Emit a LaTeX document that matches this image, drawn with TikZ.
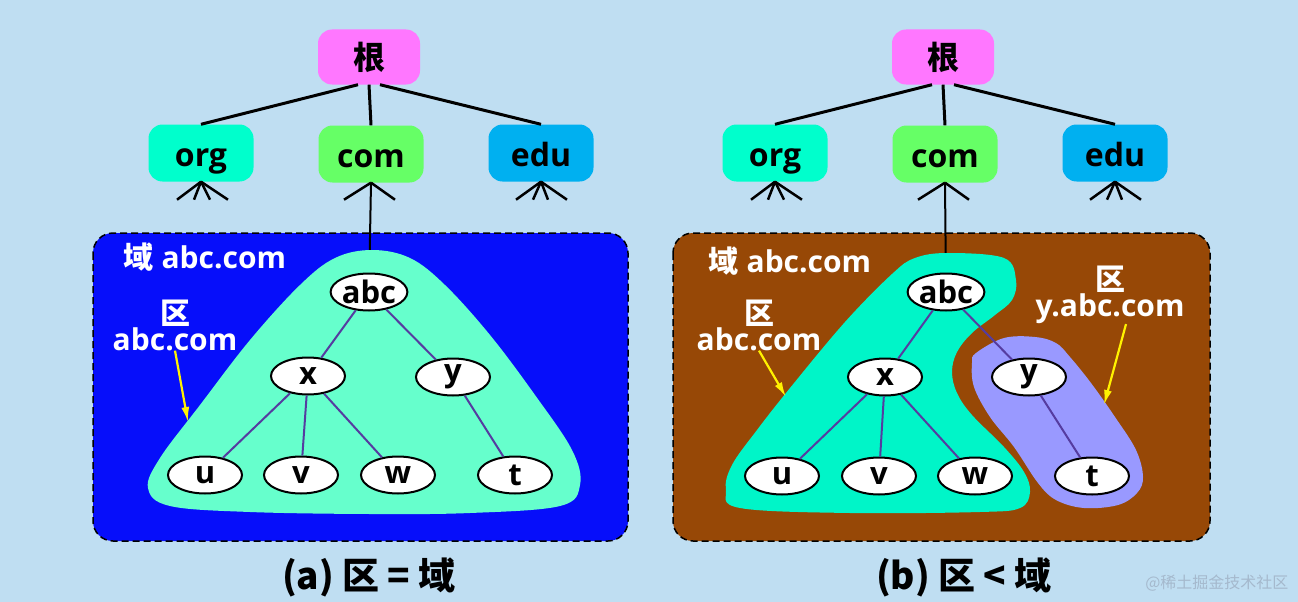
\documentclass[tikz,border=0pt]{standalone}
\usepackage{fontspec}
\setmainfont{Open Sans}
\newfontfamily\cjk{Noto Sans CJK SC}
\usetikzlibrary{shapes.geometric,arrows.meta}
\definecolor{bgblue}{RGB}{191,222,242}
\definecolor{rootpink}{RGB}{255,119,255}
\definecolor{orgcyan}{RGB}{0,255,204}
\definecolor{comgreen}{RGB}{102,255,102}
\definecolor{edublue}{RGB}{0,176,240}
\definecolor{domblue}{RGB}{6,14,250}
\definecolor{dombrown}{RGB}{151,72,6}
\definecolor{zonemint}{RGB}{102,255,204}
\definecolor{zoneteal}{RGB}{0,245,200}
\definecolor{zonelilac}{RGB}{153,153,255}
\definecolor{edgepurple}{RGB}{85,60,160}
\definecolor{markgrey}{RGB}{165,185,205}
\pgfdeclarelayer{bottom}
\pgfdeclarelayer{zones}
\pgfsetlayers{bottom,zones,main}
\tikzset{
  tld/.style={rounded corners=14pt, minimum width=105pt, minimum height=57pt,
    inner sep=0pt, text height=26pt, text depth=0pt,
    font=\bfseries\fontsize{32}{32}\selectfont},
  host/.style={ellipse, draw, line width=2pt, fill=white, minimum width=74pt,
    minimum height=37pt, inner sep=0pt, font=\bfseries\fontsize{31}{31}\selectfont},
  trunk/.style={line width=3pt},
  stub/.style={line width=2.5pt},
  treeedge/.style={draw=edgepurple, line width=2pt},
  domainbox/.style={rounded corners=20pt, dash pattern=on 7pt off 4pt, line width=1.5pt},
  lbl/.style={text=white, inner sep=0pt, align=center,
    font=\bfseries\fontsize{30}{26}\selectfont},
  pointer/.style={draw=yellow, line width=2.2pt, -{Latex[length=15pt,width=8pt]}},
  caption/.style={font=\cjk\bfseries\fontsize{37}{37}\selectfont},
}
\begin{document}
\begin{tikzpicture}[x=1pt,y=-1pt]
  \useasboundingbox (0,0) rectangle (1298,602);
  \begin{pgfonlayer}{bottom}
    \fill[bgblue] (0,0) rectangle (1298,602);
    \draw[domainbox, fill=domblue] (93,233) rectangle (628,541);
    \draw[domainbox, fill=dombrown] (673,233) rectangle (1210,541);
  \end{pgfonlayer}
  %
  % (a) top level
  \node[tld, fill=rootpink, minimum width=102pt, minimum height=55pt] (rootL) at (369,57) {\cjk 根};
  \node[tld, fill=orgcyan] (orgL) at (201,153) {org};
  \node[tld, fill=comgreen] (comL) at (371,154) {com};
  \node[tld, fill=edublue] (eduL) at (541,153) {edu};
  \draw[trunk] ([xshift=-11pt]rootL.south) -- (orgL.north);
  \draw[trunk] (rootL.south) -- (comL.north);
  \draw[trunk] ([xshift=11pt]rootL.south) -- (eduL.north);
  \foreach \dx in {-24,-7,9,27} \draw[stub] (orgL.south) -- ++(\dx,18);
  \foreach \dx in {-27,24} \draw[stub] (comL.south) -- ++(\dx,17);
  \foreach \dx in {-25,-8,7,26} \draw[stub] (eduL.south) -- ++(\dx,18);
  %
  % (b) top level
  \node[tld, fill=rootpink, minimum width=102pt, minimum height=55pt] (rootR) at (943,57) {\cjk 根};
  \node[tld, fill=orgcyan] (orgR) at (775,153) {org};
  \node[tld, fill=comgreen] (comR) at (945,154) {com};
  \node[tld, fill=edublue] (eduR) at (1115,153) {edu};
  \draw[trunk] ([xshift=-11pt]rootR.south) -- (orgR.north);
  \draw[trunk] (rootR.south) -- (comR.north);
  \draw[trunk] ([xshift=11pt]rootR.south) -- (eduR.north);
  \foreach \dx in {-24,-7,9,27} \draw[stub] (orgR.south) -- ++(\dx,18);
  \foreach \dx in {-27,24} \draw[stub] (comR.south) -- ++(\dx,17);
  \foreach \dx in {-25,-8,7,26} \draw[stub] (eduR.south) -- ++(\dx,18);
  %
  % (a) hosts
  \node[host] (abcL) at (369,292) {abc};
  \node[host] (xL) at (308,376) {x};
  \node[host] (yL) at (453,377) {y};
  \node[host] (uL) at (205,475) {u};
  \node[host] (vL) at (301,475) {v};
  \node[host] (wL) at (398,475) {w};
  \node[host] (tL) at (515,475) {t};
  \draw[treeedge] (abcL) -- (xL);
  \draw[treeedge] (abcL) -- (yL);
  \draw[treeedge] (xL) -- (uL);
  \draw[treeedge] (xL) -- (vL);
  \draw[treeedge] (xL) -- (wL);
  \draw[treeedge] (yL) -- (tL);
  %
  % (b) hosts
  \node[host] (abcR) at (946,292) {abc};
  \node[host] (xR) at (885,377) {x};
  \node[host] (yR) at (1029,377) {y};
  \node[host] (uR) at (782,476) {u};
  \node[host] (vR) at (879,476) {v};
  \node[host] (wR) at (975,476) {w};
  \node[host] (tR) at (1092,476) {t};
  \draw[treeedge] (abcR) -- (xR);
  \draw[treeedge] (abcR) -- (yR);
  \draw[treeedge] (xR) -- (uR);
  \draw[treeedge] (xR) -- (vR);
  \draw[treeedge] (xR) -- (wR);
  \draw[treeedge] (yR) -- (tR);
  %
  \begin{pgfonlayer}{bottom}
    \draw[trunk, line width=2pt] (comL.south) -- (abcL);
    \draw[trunk, line width=2pt] (comR.south) -- (abcR);
  \end{pgfonlayer}
  %
  % zones
  \begin{pgfonlayer}{zones}
    \fill[zonemint] plot[smooth cycle, tension=0.6] coordinates {
      (372,250) (410,258) (445,285) (490,335) (535,395) (572,450) (580,485)
      (560,506) (470,513) (370,514) (250,512) (170,506) (148,488) (160,458)
      (200,405) (250,340) (300,285) (335,258)};
    \fill[zoneteal] plot[smooth cycle, tension=0.6] coordinates {
      (948,253) (1004,258) (1016,280) (1012,300) (995,315) (972,333) (957,352)
      (952,372) (957,393) (972,415) (1004,447) (1024,472) (1030,492) (1020,508)
      (980,512) (850,513) (740,508) (726,490) (732,465) (757,430) (790,388)
      (845,322) (892,274) (915,258)};
    \fill[zonelilac] plot[smooth cycle, tension=0.6] coordinates {
      (976,353) (1004,338) (1035,337) (1056,343) (1070,357) (1091,383)
      (1115,417) (1136,450) (1143,477) (1137,493) (1118,505) (1084,508)
      (1056,500) (1038,483) (1014,447) (990,417) (974,387) (972,363)};
  \end{pgfonlayer}
  %
  % labels
  \node[lbl] (domlblL) at (205,257) {{\cjk 域} abc.com};
  \node[lbl] (zonelblL) at (175,325) {{\cjk 区}\\abc.com};
  \coordinate (tipL) at (188,422);
  \draw[pointer] (zonelblL.south) -- (tipL);
  %
  \node[lbl] (domlblR) at (790,261) {{\cjk 域} abc.com};
  \node[lbl] (zonelblR) at (759,325) {{\cjk 区}\\abc.com};
  \coordinate (tipR) at (786,397);
  \draw[pointer] (zonelblR.south) -- (tipR);
  \node[lbl] (zonelblY) at (1110,295) {{\cjk 区}\\y.abc.com};
  \coordinate (tipY) at (1104,405);
  \draw[pointer] ([xshift=16pt]zonelblY.south) -- (tipY);
  %
  \node[caption] (capL) at (369,577) {(a) 区 = 域};
  \node[caption] (capR) at (964,577) {(b) 区 < 域};
  \node[font=\cjk\fontsize{16}{16}\selectfont, text=markgrey, anchor=east] (mark) at (1292,583) {@稀土掘金技术社区};
\end{tikzpicture}
\end{document}
